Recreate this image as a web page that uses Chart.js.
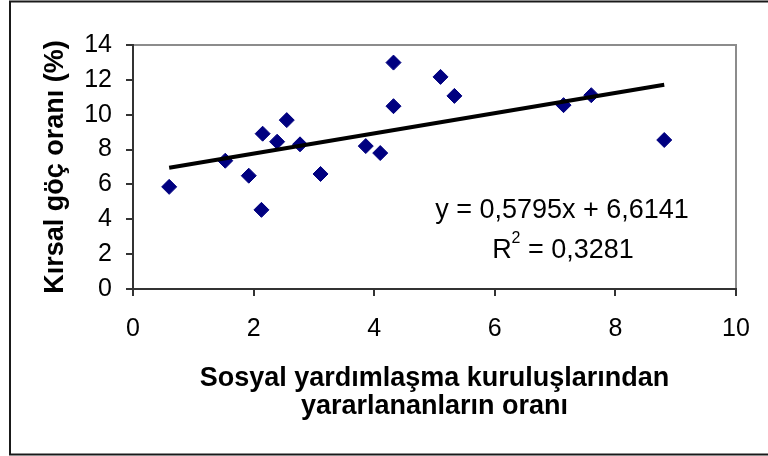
<!DOCTYPE html>
<html>
<head>
<meta charset="utf-8">
<script src="https://cdn.jsdelivr.net/npm/chart.js@4/dist/chart.umd.min.js"></script>
<style>
html,body{margin:0;padding:0;background:#fff;}
canvas{display:block;}
</style>
</head>
<body>
<canvas id="c" width="768" height="456"></canvas>
<script>
// Data
const xValues = [0.60, 1.53, 1.92, 2.13, 2.15, 2.39, 2.55, 2.77, 3.11, 3.86, 4.10, 4.32, 4.32, 5.10, 5.33, 7.14, 7.60, 8.81];
const yValues = [5.86, 7.36, 6.50, 4.54, 8.91, 8.45, 9.69, 8.30, 6.60, 8.20, 7.80, 10.49, 12.99, 12.17, 11.08, 10.55, 11.12, 8.55];
const trendX = [0.60, 8.81];
const trendY = [6.96, 11.72];
const xTitle = ["Sosyal yardımlaşma kuruluşlarından", "yararlananların oranı"];
const yTitle = "Kırsal göç oranı (%)";
const eqLine1 = "y = 0,5795x + 6,6141";
const eqR = "R";
const eqSup = "2";
const eqLine2 = " = 0,3281";

const FONT = "'Liberation Sans', Arial, sans-serif";

const points = xValues.map((x, i) => ({x: x, y: yValues[i]}));
const trend = trendX.map((x, i) => ({x: x, y: trendY[i]}));

const decor = {
  id: 'decor',
  beforeDraw(chart) {
    const ctx = chart.ctx;
    const a = chart.chartArea;
    ctx.save();
    // outer frame
    ctx.strokeStyle = '#1a1a1a';
    ctx.lineWidth = 2;
    ctx.strokeRect(10, 1.5, 770, 453);
    // plot area top/right grey border
    ctx.strokeStyle = '#8c8c8c';
    ctx.lineWidth = 2;
    ctx.beginPath();
    ctx.moveTo(a.left, a.top);
    ctx.lineTo(a.right, a.top);
    ctx.lineTo(a.right, a.bottom);
    ctx.stroke();
    ctx.restore();
  },
  afterDraw(chart) {
    const ctx = chart.ctx;
    ctx.save();
    ctx.fillStyle = '#000';
    ctx.textBaseline = 'alphabetic';
    ctx.font = '27px ' + FONT;
    ctx.textAlign = 'center';
    ctx.fillText(eqLine1, 562, 218);
    // second line with superscript
    ctx.textAlign = 'left';
    ctx.font = '27px ' + FONT;
    const wR = ctx.measureText(eqR).width;
    const wRest = ctx.measureText(eqLine2).width;
    ctx.font = '16px ' + FONT;
    const wSup = ctx.measureText(eqSup).width;
    const total = wR + wSup + wRest;
    let x = 563 - total / 2;
    ctx.font = '27px ' + FONT;
    ctx.fillText(eqR, x, 258);
    x += wR;
    ctx.font = '16px ' + FONT;
    ctx.fillText(eqSup, x, 243);
    x += wSup;
    ctx.font = '27px ' + FONT;
    ctx.fillText(eqLine2, x, 258);
    ctx.restore();
  }
};

new Chart(document.getElementById('c'), {
  type: 'scatter',
  data: {
    datasets: [
      {
        type: 'line',
        data: trend,
        borderColor: '#000000',
        borderWidth: 4,
        borderCapStyle: 'butt',
        pointRadius: 0,
        fill: false,
        tension: 0
      },
      {
        data: points,
        pointStyle: 'rectRot',
        pointRadius: 7.5,
        pointBackgroundColor: '#000080',
        pointBorderColor: '#000080',
        pointBorderWidth: 1,
        showLine: false
      }
    ]
  },
  options: {
    responsive: false,
    animation: false,
    devicePixelRatio: 1,
    layout: { padding: { left: 42, top: 45, right: 32, bottom: 36 } },
    plugins: { legend: { display: false }, tooltip: { enabled: false } },
    scales: {
      x: {
        type: 'linear',
        min: 0, max: 10,
        ticks: { stepSize: 2, color: '#000', font: { family: FONT, size: 25 }, padding: 18, maxRotation: 0 },
        grid: { drawOnChartArea: false, drawTicks: true, tickLength: 7, color: '#333', lineWidth: 2 },
        border: { display: true, color: '#333', width: 2 },
        title: { display: true, text: xTitle, color: '#000', font: { family: FONT, size: 27, weight: 'bold', lineHeight: 1.03 }, padding: { top: 0, bottom: 0 } },
        afterFit(scale) { scale.height = 131; }
      },
      y: {
        type: 'linear',
        min: 0, max: 14,
        ticks: { stepSize: 2, color: '#000', font: { family: FONT, size: 25 }, padding: 14 },
        grid: { drawOnChartArea: false, drawTicks: true, tickLength: 7, color: '#333', lineWidth: 2 },
        border: { display: true, color: '#333', width: 2 },
        title: { display: true, text: yTitle, color: '#000', font: { family: FONT, size: 27, weight: 'bold', lineHeight: 1.03 }, padding: { top: 0, bottom: 0 } },
        afterFit(scale) { scale.width = 91; }
      }
    }
  },
  plugins: [decor]
});
</script>
</body>
</html>
